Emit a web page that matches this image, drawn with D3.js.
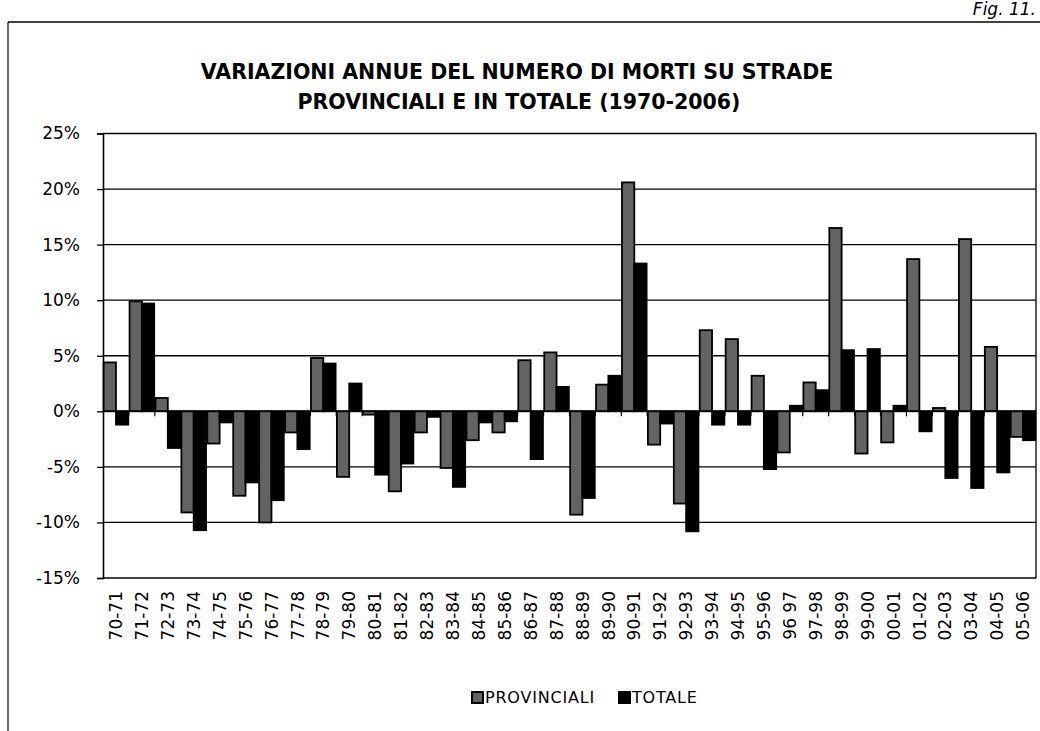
<!DOCTYPE html>
<html>
<head>
<meta charset="utf-8">
<script src="https://cdn.jsdelivr.net/npm/d3@7"></script>
<style>
  body { margin: 0; background: #fff; }
  svg { display: block; }
</style>
</head>
<body>
<div id="chart"></div>
<script>
// categories (anni) and values
const periodi = ["70-71","71-72","72-73","73-74","74-75","75-76","76-77","77-78","78-79","79-80",
  "80-81","81-82","82-83","83-84","84-85","85-86","86-87","87-88","88-89","89-90",
  "90-91","91-92","92-93","93-94","94-95","95-96","96 97","97-98","98-99","99-00",
  "00-01","01-02","02-03","03-04","04-05","05-06"];

const provinciali = [4.4, 9.9, 1.2, -9.1, -2.9, -7.6, -10.0, -1.9, 4.8, -5.9,
  -0.3, -7.2, -1.9, -5.1, -2.6, -1.9, 4.6, 5.3, -9.3, 2.4,
  20.6, -3.0, -8.3, 7.3, 6.5, 3.2, -3.7, 2.6, 16.5, -3.8,
  -2.8, 13.7, 0.3, 15.5, 5.8, -2.3];

const totale = [-1.2, 9.7, -3.3, -10.7, -1.0, -6.4, -8.0, -3.4, 4.3, 2.5,
  -5.7, -4.7, -0.5, -6.8, -1.0, -0.9, -4.3, 2.2, -7.8, 3.2,
  13.3, -1.1, -10.8, -1.2, -1.2, -5.2, 0.5, 1.9, 5.5, 5.6,
  0.5, -1.8, -6.0, -6.9, -5.5, -2.6];

const serie = ["PROVINCIALI", "TOTALE"];
const yTicks = [-15, -10, -5, 0, 5, 10, 15, 20, 25];

const W = 1040, H = 731;
const margin = { top: 133.5, right: 4, bottom: 153, left: 103 };
const width = W - margin.left - margin.right,
  height = H - margin.top - margin.bottom;

const provColor = "#636363";
const totColor = "#000";
const font = "'DejaVu Sans', sans-serif";

const svgRoot = d3.select("#chart").append("svg")
  .attr("width", W).attr("height", H);

// outer frame (only top and left visible)
svgRoot.append("line").attr("x1", 8).attr("x2", W).attr("y1", 22).attr("y2", 22)
  .attr("stroke", "#000").attr("stroke-width", 1.5);
svgRoot.append("line").attr("x1", 8).attr("x2", 8).attr("y1", 22).attr("y2", H)
  .attr("stroke", "#000").attr("stroke-width", 1.2);

svgRoot.append("text")
  .attr("x", 1036).attr("y", 15).attr("text-anchor", "end")
  .style("font-family", font).style("font-style", "italic")
  .style("font-size", "17px")
  .text("Fig. 11.");

// title
const title = svgRoot.append("g")
  .style("font-family", font).style("font-weight", "bold")
  .style("font-size", "20.5px").attr("text-anchor", "middle");
title.append("text").attr("x", 517).attr("y", 79)
  .text("VARIAZIONI ANNUE DEL NUMERO DI MORTI SU STRADE");
title.append("text").attr("x", 519).attr("y", 109)
  .text("PROVINCIALI E IN TOTALE (1970-2006)");

const svg = svgRoot.append("g")
  .attr("transform", `translate(${margin.left},${margin.top})`);

const x = d3.scaleBand().domain(periodi).range([0, width])
  .paddingInner(0.05).paddingOuter(0.025);
const xs = d3.scaleBand().domain(serie).range([0, x.bandwidth()]);
const y = d3.scaleLinear().domain([-15, 25]).range([height, 0]);

// gridlines
svg.selectAll(".grid").data(yTicks).enter().append("line")
  .attr("x1", 0).attr("x2", width)
  .attr("y1", d => y(d)).attr("y2", d => y(d))
  .attr("stroke", "#000").attr("stroke-width", 1.3);

// right border of plot
svg.append("line").attr("x1", width).attr("x2", width).attr("y1", 0).attr("y2", height)
  .attr("stroke", "#000").attr("stroke-width", 1.3);

// y axis
svg.append("g")
  .call(d3.axisLeft(y).tickValues(yTicks).tickSize(6).tickPadding(17)
    .tickFormat(d => d + "%"))
  .call(g => g.selectAll("line").attr("stroke", "#000").attr("stroke-width", 1.3))
  .call(g => g.select(".domain").attr("stroke", "#000").attr("stroke-width", 1.6))
  .selectAll("text")
  .style("font-family", font).style("font-size", "17px").attr("fill", "#000");

// bars
const rows = periodi.map((p, i) => ({ p, vals: [
  { s: "PROVINCIALI", v: provinciali[i] }, { s: "TOTALE", v: totale[i] }] }));

const groups = svg.selectAll(".cat").data(rows).enter().append("g")
  .attr("transform", d => `translate(${x(d.p)},0)`);

groups.selectAll("rect").data(d => d.vals).enter().append("rect")
  .attr("x", d => xs(d.s))
  .attr("width", xs.bandwidth())
  .attr("y", d => y(Math.max(0, d.v)))
  .attr("height", d => Math.abs(y(d.v) - y(0)))
  .attr("fill", d => d.s === "PROVINCIALI" ? provColor : totColor)
  .attr("stroke", "#000").attr("stroke-width", 1.8);

// zero axis with ticks at category boundaries
svg.append("line").attr("x1", 0).attr("x2", width).attr("y1", y(0)).attr("y2", y(0))
  .attr("stroke", "#000").attr("stroke-width", 1.5);
const step = x.step();
svg.selectAll(".xtick").data(periodi.slice(1)).enter().append("line")
  .attr("x1", d => x(d) - step * x.paddingInner() / 2)
  .attr("x2", d => x(d) - step * x.paddingInner() / 2)
  .attr("y1", y(0)).attr("y2", y(0) + 5)
  .attr("stroke", "#000").attr("stroke-width", 1.2);

// category labels below plot
svg.selectAll(".xlab").data(periodi).enter().append("text")
  .attr("transform", d => `translate(${x(d) + x.bandwidth() / 2},${height + 13}) rotate(-90)`)
  .attr("dy", "0.36em")
  .attr("text-anchor", "end")
  .style("font-family", font).style("font-size", "17px")
  .text(d => d);

// legend
const legend = svgRoot.append("g").style("font-family", font)
  .style("font-size", "16px").style("letter-spacing", "0.8px");
const legItems = [
  { s: "PROVINCIALI", x: 472, c: provColor },
  { s: "TOTALE", x: 619, c: totColor }
];
legItems.forEach(d => {
  legend.append("rect").attr("x", d.x).attr("y", 692).attr("width", 11).attr("height", 11)
    .attr("fill", d.c).attr("stroke", "#000").attr("stroke-width", 2);
  legend.append("text").attr("x", d.x + 13).attr("y", 703).text(d.s);
});
</script>
</body>
</html>
